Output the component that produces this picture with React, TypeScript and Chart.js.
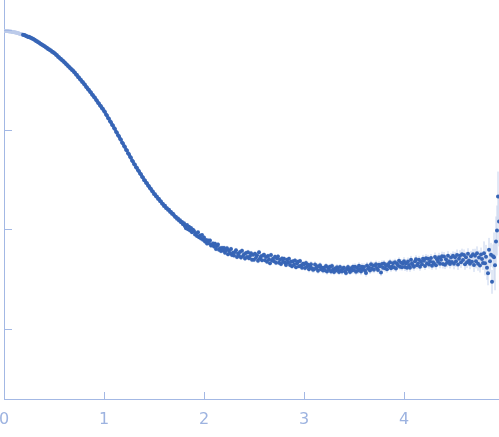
import { useEffect, useRef } from 'react';
import Chart from 'chart.js/auto';

// scattering vector q, sampled every 0.01
const Q_STEP = 0.01;
const EXCLUDED_START = 0;
const MEASURED_START = 0.19;

// points left out of the fit (light)
const excluded = [
  3.99, 3.99, 3.99, 3.99, 3.99, 3.985, 3.985, 3.985, 3.98, 3.98,
  3.98, 3.975, 3.975, 3.97, 3.97, 3.965, 3.96, 3.96, 3.955,
];

// measured log intensity, q = 0.19 .. 4.95
const intensity = [
  3.951,
  3.948, 3.946, 3.939, 3.936, 3.929, 3.931, 3.923, 3.921, 3.914, 3.911,
  3.903, 3.899, 3.890, 3.886, 3.877, 3.874, 3.864, 3.860, 3.851, 3.847,
  3.838, 3.835, 3.824, 3.821, 3.810, 3.807, 3.796, 3.793, 3.782, 3.779,
  3.768, 3.763, 3.750, 3.745, 3.732, 3.727, 3.714, 3.709, 3.696, 3.691,
  3.678, 3.672, 3.658, 3.652, 3.638, 3.632, 3.618, 3.612, 3.598, 3.592,
  3.577, 3.571, 3.553, 3.547, 3.529, 3.523, 3.505, 3.499, 3.481, 3.475,
  3.457, 3.450, 3.431, 3.424, 3.405, 3.398, 3.379, 3.372, 3.353, 3.346,
  3.327, 3.319, 3.299, 3.291, 3.271, 3.263, 3.243, 3.235, 3.215, 3.207,
  3.186, 3.177, 3.152, 3.143, 3.118, 3.109, 3.084, 3.075, 3.050, 3.041,
  3.016, 3.006, 2.980, 2.970, 2.944, 2.934, 2.908, 2.898, 2.872, 2.862,
  2.836, 2.826, 2.800, 2.790, 2.764, 2.754, 2.728, 2.718, 2.692, 2.682,
  2.656, 2.648, 2.624, 2.616, 2.592, 2.584, 2.560, 2.552, 2.528, 2.520,
  2.496, 2.490, 2.468, 2.462, 2.440, 2.434, 2.412, 2.406, 2.384, 2.378,
  2.356, 2.352, 2.332, 2.328, 2.308, 2.304, 2.284, 2.280, 2.260, 2.256,
  2.235, 2.238, 2.214, 2.213, 2.196, 2.197, 2.176, 2.174, 2.158, 2.156,
  2.142, 2.128, 2.125, 2.108, 2.110, 2.089, 2.091, 2.072, 2.074, 2.052,
  2.062, 2.031, 2.012, 2.045, 2.002, 2.028, 1.990, 2.015, 1.971, 1.996,
  1.985, 1.948, 1.962, 1.935, 1.971, 1.921, 1.940, 1.908, 1.944, 1.896,
  1.920, 1.879, 1.893, 1.860, 1.890, 1.862, 1.889, 1.840, 1.847, 1.858,
  1.828, 1.857, 1.805, 1.833, 1.848, 1.797, 1.812, 1.783, 1.815, 1.789,
  1.814, 1.767, 1.790, 1.811, 1.752, 1.787, 1.762, 1.803, 1.744, 1.765,
  1.738, 1.774, 1.790, 1.724, 1.756, 1.736, 1.774, 1.718, 1.787, 1.734,
  1.750, 1.709, 1.763, 1.723, 1.771, 1.710, 1.734, 1.761, 1.696, 1.745,
  1.697, 1.756, 1.715, 1.742, 1.685, 1.770, 1.711, 1.731, 1.692, 1.738,
  1.745, 1.692, 1.724, 1.677, 1.733, 1.702, 1.662, 1.743, 1.688, 1.706,
  1.682, 1.726, 1.666, 1.709, 1.729, 1.667, 1.695, 1.653, 1.708, 1.676,
  1.706, 1.666, 1.644, 1.695, 1.669, 1.705, 1.643, 1.677, 1.630, 1.680,
  1.646, 1.688, 1.622, 1.661, 1.677, 1.631, 1.683, 1.639, 1.616, 1.656,
  1.652, 1.613, 1.664, 1.626, 1.646, 1.600, 1.630, 1.650, 1.610, 1.596,
  1.600, 1.649, 1.612, 1.631, 1.586, 1.625, 1.640, 1.602, 1.616, 1.589,
  1.615, 1.591, 1.634, 1.577, 1.618, 1.597, 1.625, 1.579, 1.633, 1.598,
  1.572, 1.609, 1.587, 1.622, 1.598, 1.573, 1.624, 1.589, 1.577, 1.611,
  1.615, 1.580, 1.564, 1.604, 1.624, 1.593, 1.573, 1.611, 1.588, 1.626,
  1.594, 1.625, 1.576, 1.615, 1.588, 1.635, 1.603, 1.577, 1.626, 1.597,
  1.624, 1.589, 1.562, 1.639, 1.606, 1.621, 1.588, 1.650, 1.605, 1.638,
  1.596, 1.637, 1.652, 1.613, 1.594, 1.647, 1.630, 1.567, 1.654, 1.615,
  1.658, 1.611, 1.640, 1.601, 1.652, 1.631, 1.670, 1.611, 1.626, 1.661,
  1.622, 1.671, 1.608, 1.655, 1.638, 1.685, 1.626, 1.667, 1.622, 1.655,
  1.682, 1.623, 1.662, 1.617, 1.678, 1.643, 1.616, 1.695, 1.660, 1.639,
  1.626, 1.681, 1.700, 1.641, 1.658, 1.695, 1.626, 1.679, 1.652, 1.705,
  1.686, 1.633, 1.712, 1.660, 1.705, 1.648, 1.680, 1.713, 1.636, 1.671,
  1.660, 1.723, 1.642, 1.701, 1.676, 1.721, 1.656, 1.695, 1.732, 1.653,
  1.728, 1.647, 1.702, 1.665, 1.737, 1.682, 1.654, 1.719, 1.674, 1.735,
  1.655, 1.720, 1.680, 1.744, 1.649, 1.706, 1.737, 1.670, 1.752, 1.694,
  1.744, 1.650, 1.720, 1.670, 1.756, 1.688, 1.656, 1.730, 1.676, 1.750,
  1.644, 1.736, 1.680, 1.760, 1.656, 1.718, 1.638, 1.748, 1.704, 1.664,
  1.760, 1.660, 1.725, 1.615, 1.560, 1.795, 1.680, 1.745, 1.475, 1.730,
  1.720, 1.640, 1.880, 1.990, 2.330, 2.080,
];

// half error bar per 0.1 bin of q
const errorBand = [
  0.003, 0.003, 0.003, 0.003, 0.003, 0.003, 0.003, 0.003, 0.003, 0.003,
  0.003, 0.003, 0.003, 0.003, 0.003, 0.003, 0.01, 0.01, 0.012, 0.015,
  0.025, 0.025, 0.025, 0.025, 0.025, 0.025, 0.025, 0.025, 0.025, 0.025,
  0.03, 0.03, 0.03, 0.03, 0.03, 0.035, 0.035, 0.035, 0.035, 0.035,
  0.04, 0.04, 0.04, 0.045, 0.045, 0.055, 0.055, 0.07, 0.12, 0.25,
];

const xTickValues = [0, 1, 2, 3, 4];
const yTickValues = [1, 2, 3, 4];

const AXIS = '#a3b8e4';

const measuredPoints = intensity.map((y, i) => ({ x: +(MEASURED_START + i * Q_STEP).toFixed(2), y }));
const excludedPoints = excluded.map((y, i) => ({ x: +(EXCLUDED_START + i * Q_STEP).toFixed(2), y }));

const errorBarsPlugin = {
  id: 'errorBars',
  beforeDatasetsDraw(chart: any) {
    const { ctx, chartArea, scales } = chart;
    ctx.save();
    ctx.beginPath();
    ctx.rect(chartArea.left, chartArea.top, chartArea.right - chartArea.left, chartArea.bottom - chartArea.top);
    ctx.clip();
    ctx.strokeStyle = '#c4d2ed';
    ctx.lineWidth = 1;
    measuredPoints.forEach((p) => {
      const err = errorBand[Math.min(errorBand.length - 1, Math.floor(p.x * 10))];
      const px = scales.x.getPixelForValue(p.x);
      ctx.beginPath();
      ctx.moveTo(px, scales.y.getPixelForValue(p.y - err));
      ctx.lineTo(px, scales.y.getPixelForValue(p.y + err));
      ctx.stroke();
    });
    ctx.restore();
  },
};

// tick marks point into the plot
const innerTicksPlugin = {
  id: 'innerTicks',
  afterDraw(chart: any) {
    const { ctx, chartArea, scales } = chart;
    ctx.save();
    ctx.strokeStyle = AXIS;
    ctx.lineWidth = 1;
    xTickValues.forEach((v) => {
      const px = Math.round(scales.x.getPixelForValue(v)) + 0.5;
      ctx.beginPath();
      ctx.moveTo(px, chartArea.bottom);
      ctx.lineTo(px, chartArea.bottom - 7);
      ctx.stroke();
    });
    yTickValues.forEach((v) => {
      const py = Math.round(scales.y.getPixelForValue(v)) + 0.5;
      ctx.beginPath();
      ctx.moveTo(chartArea.left, py);
      ctx.lineTo(chartArea.left + 8, py);
      ctx.stroke();
    });
    ctx.restore();
  },
};

export default function App() {
  const chartRef = useRef<HTMLCanvasElement>(null);
  const chartInstance = useRef<Chart | null>(null);

  useEffect(() => {
    if (!chartRef.current) return;
    const ctx = chartRef.current.getContext('2d');
    if (!ctx) return;

    if (chartInstance.current) {
      chartInstance.current.destroy();
    }

    chartInstance.current = new Chart(ctx, {
      type: 'scatter',
      data: {
        datasets: [
          {
            label: 'measured',
            data: measuredPoints,
            backgroundColor: '#3765b6',
            borderWidth: 0,
            pointRadius: 2,
          },
          {
            label: 'excluded',
            data: excludedPoints,
            backgroundColor: '#bccbea',
            borderWidth: 0,
            pointRadius: 2,
          },
        ],
      },
      options: {
        animation: false,
        responsive: true,
        maintainAspectRatio: false,
        layout: { padding: 0, autoPadding: false },
        plugins: {
          legend: { display: false },
          tooltip: { enabled: false },
        },
        scales: {
          x: {
            type: 'linear',
            min: 0,
            max: 4.95,
            grid: { display: false, drawTicks: false },
            border: { color: AXIS, width: 1 },
            afterBuildTicks: (scale: any) => {
              scale.ticks = xTickValues.map((value) => ({ value }));
            },
            afterFit: (scale: any) => {
              scale.height = 38;
              scale.paddingLeft = 0;
              scale.paddingRight = 0;
            },
            ticks: {
              color: '#9db3e0',
              padding: 11,
              maxRotation: 0,
              font: { family: 'DejaVu Sans', size: 16 },
            },
          },
          y: {
            type: 'linear',
            min: 0.3,
            max: 4.3,
            grid: { display: false, drawTicks: false },
            border: { color: AXIS, width: 1 },
            afterBuildTicks: (scale: any) => {
              scale.ticks = yTickValues.map((value) => ({ value }));
            },
            afterFit: (scale: any) => {
              scale.width = 4;
              scale.paddingTop = 0;
              scale.paddingBottom = 0;
            },
            ticks: { display: false },
          },
        },
      },
      plugins: [errorBarsPlugin, innerTicksPlugin],
    });

    return () => {
      if (chartInstance.current) {
        chartInstance.current.destroy();
        chartInstance.current = null;
      }
    };
  }, []);

  return (
    <div style={{ position: 'fixed', left: 0, top: 0, width: 499, height: 437, background: '#fff' }}>
      <canvas ref={chartRef}></canvas>
    </div>
  );
}
